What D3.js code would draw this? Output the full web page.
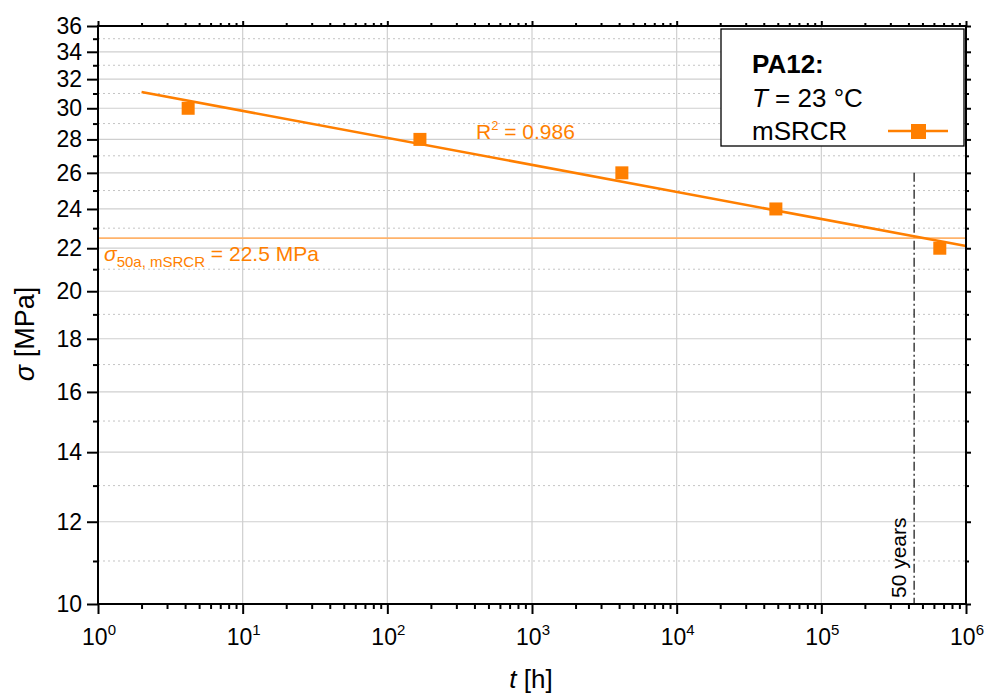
<!DOCTYPE html>
<html>
<head>
<meta charset="utf-8">
<script src="https://cdn.jsdelivr.net/npm/d3@7"></script>
<style>
  body { margin: 0; background: #fff; }
  svg text { font-family: Arial, "Liberation Sans", sans-serif; }
</style>
</head>
<body>
<div id="chart"></div>
<script>
var timeH = [4.2, 168, 4180, 48500, 659000];
var stressMPa = [30, 28, 26, 24, 22];
// power law fit sigma = a * t^b, drawn from t = 2 to 1e6
var fitA = 31.67;
var fitB = -0.02601;
var fitRange = [2, 1e6];
var sigma50a = 22.5;
var t50a = 438000;
var fiftyTop = 26;
var yMajor = [10, 12, 14, 16, 18, 20, 22, 24, 26, 28, 30, 32, 34, 36];
var yMinor = [11, 13, 15, 17, 19, 21, 23, 25, 27, 29, 31, 33, 35];
var xMajor = [1, 10, 100, 1000, 10000, 100000, 1000000];

var w = 985, h = 697;
var orange = '#ff7f00';
var svg = d3.select('#chart').append('svg').attr('width', w).attr('height', h);

var x = d3.scaleLog().domain([1, 1e6]).range([98, 966]);
var y = d3.scaleLog().domain([10, 36]).range([604, 26]);

var xMinor = [];
xMajor.slice(0, -1).forEach(function (d) {
  for (var k = 2; k < 10; k++) xMinor.push(d * k);
});

// grid
svg.append('g').selectAll('line').data(yMinor).enter().append('line')
  .attr('x1', x(1)).attr('x2', x(1e6))
  .attr('y1', d => y(d)).attr('y2', d => y(d))
  .attr('stroke', '#c4c4c4').attr('stroke-width', 1).attr('stroke-dasharray', '2,3');
svg.append('g').selectAll('line').data(yMajor.slice(1, -1)).enter().append('line')
  .attr('x1', x(1)).attr('x2', x(1e6))
  .attr('y1', d => y(d)).attr('y2', d => y(d))
  .attr('stroke', '#cfcfcf').attr('stroke-width', 1.2);
svg.append('g').selectAll('line').data(xMajor.slice(1, -1)).enter().append('line')
  .attr('y1', y(10)).attr('y2', y(36))
  .attr('x1', d => x(d)).attr('x2', d => x(d))
  .attr('stroke', '#cfcfcf').attr('stroke-width', 1.2);

// 50 years marker
svg.append('line')
  .attr('x1', x(t50a)).attr('x2', x(t50a))
  .attr('y1', y(fiftyTop)).attr('y2', y(10))
  .attr('stroke', '#222').attr('stroke-width', 1.3)
  .attr('stroke-dasharray', '9,3,2,3');
svg.append('text')
  .attr('transform', 'translate(' + (x(t50a) - 8) + ',' + (y(10) - 6) + ') rotate(-90)')
  .attr('font-size', 21).attr('fill', '#000')
  .text('50 years');

// 50a stress level
svg.append('line')
  .attr('x1', x(1)).attr('x2', x(1e6))
  .attr('y1', y(sigma50a)).attr('y2', y(sigma50a))
  .attr('stroke', '#ffb36b').attr('stroke-width', 1.6);

// fit line
var fitLine = d3.line().x(d => x(d)).y(d => y(fitA * Math.pow(d, fitB)));
svg.append('path').datum(fitRange)
  .attr('d', fitLine)
  .attr('fill', 'none').attr('stroke', orange).attr('stroke-width', 2.6);

// points
svg.append('g').selectAll('rect').data(timeH).enter().append('rect')
  .attr('x', (d, i) => x(d) - 6.5)
  .attr('y', (d, i) => y(stressMPa[i]) - 6.5)
  .attr('width', 13).attr('height', 13)
  .attr('fill', orange);

// axes frame
var axisW = 2;
var left = d3.axisLeft(y).tickValues(yMajor).tickFormat(d3.format('d')).tickSize(11).tickPadding(5);
var gl = svg.append('g').attr('transform', 'translate(' + x(1) + ',0)').call(left);
gl.selectAll('text').attr('font-size', 23).attr('fill', '#000');
svg.append('g').attr('transform', 'translate(' + x(1) + ',0)')
  .call(d3.axisLeft(y).tickValues(yMinor).tickFormat('').tickSize(5));

var bottom = d3.axisBottom(x).tickValues(xMajor).tickFormat('').tickSize(10);
svg.append('g').attr('transform', 'translate(0,' + y(10) + ')').call(bottom);
svg.append('g').attr('transform', 'translate(0,' + y(10) + ')')
  .call(d3.axisBottom(x).tickValues(xMinor).tickFormat('').tickSize(5));

// top and right mirror ticks
svg.append('g').attr('transform', 'translate(0,' + y(36) + ')')
  .call(d3.axisTop(x).tickValues(xMajor).tickFormat('').tickSize(5));
svg.append('g').attr('transform', 'translate(0,' + y(36) + ')')
  .call(d3.axisTop(x).tickValues(xMinor).tickFormat('').tickSize(3));
svg.append('g').attr('transform', 'translate(' + x(1e6) + ',0)')
  .call(d3.axisRight(y).tickValues(yMajor).tickFormat('').tickSize(5));
svg.append('g').attr('transform', 'translate(' + x(1e6) + ',0)')
  .call(d3.axisRight(y).tickValues(yMinor).tickFormat('').tickSize(3));

svg.selectAll('.domain').remove();
svg.selectAll('.tick line').attr('stroke', '#000').attr('stroke-width', axisW);
svg.append('rect')
  .attr('x', x(1)).attr('y', y(36))
  .attr('width', x(1e6) - x(1)).attr('height', y(10) - y(36))
  .attr('fill', 'none').attr('stroke', '#000').attr('stroke-width', axisW);

// x tick labels as 10^n
var xl = svg.append('g').selectAll('text').data(xMajor).enter().append('text')
  .attr('x', d => x(d) + 1).attr('y', 645)
  .attr('text-anchor', 'middle').attr('font-size', 23).attr('fill', '#000');
xl.append('tspan').text('10');
xl.append('tspan').attr('dy', -10).attr('font-size', 15).text(d => Math.round(Math.log10(d)));

// axis titles
var xt = svg.append('text').attr('x', 531).attr('y', 688)
  .attr('text-anchor', 'middle').attr('font-size', 26).attr('fill', '#000');
xt.append('tspan').attr('font-style', 'italic').text('t');
xt.append('tspan').text(' [h]');

var yt = svg.append('text').attr('transform', 'translate(34,' + 334 + ') rotate(-90)')
  .attr('text-anchor', 'middle').attr('font-size', 27).attr('fill', '#000');
yt.append('tspan').attr('font-style', 'italic').text('σ');
yt.append('tspan').text(' [MPa]');

// annotations
var r2 = svg.append('text').attr('x', 476).attr('y', 139)
  .attr('font-size', 21).attr('fill', orange);
r2.append('tspan').text('R');
r2.append('tspan').attr('dy', -9).attr('font-size', 13).text('2');
r2.append('tspan').attr('dy', 9).text(' = 0.986');

var s50 = svg.append('text').attr('x', 104).attr('y', 261)
  .attr('font-size', 21).attr('fill', orange);
s50.append('tspan').attr('font-style', 'italic').text('σ');
s50.append('tspan').attr('dy', 6).attr('font-size', 15).text('50a, mSRCR');
s50.append('tspan').attr('dy', -6).text(' = 22.5 MPa');

// legend box
var lg = svg.append('g');
lg.append('rect').attr('x', 721).attr('y', 29).attr('width', 243).attr('height', 117)
  .attr('fill', '#fff').attr('stroke', '#000').attr('stroke-width', 1.3);
lg.append('text').attr('x', 752).attr('y', 73).attr('font-size', 26)
  .attr('font-weight', 'bold').attr('fill', '#000').text('PA12:');
var lt = lg.append('text').attr('x', 752).attr('y', 107).attr('font-size', 26).attr('fill', '#000');
lt.append('tspan').attr('font-style', 'italic').text('T');
lt.append('tspan').text(' = 23 °C');
lg.append('text').attr('x', 752).attr('y', 140).attr('font-size', 26).attr('fill', '#000').text('mSRCR');
lg.append('line').attr('x1', 888).attr('x2', 948).attr('y1', 131).attr('y2', 131)
  .attr('stroke', orange).attr('stroke-width', 2.6);
lg.append('rect').attr('x', 911).attr('y', 124).attr('width', 15).attr('height', 15).attr('fill', orange);
</script>
</body>
</html>
